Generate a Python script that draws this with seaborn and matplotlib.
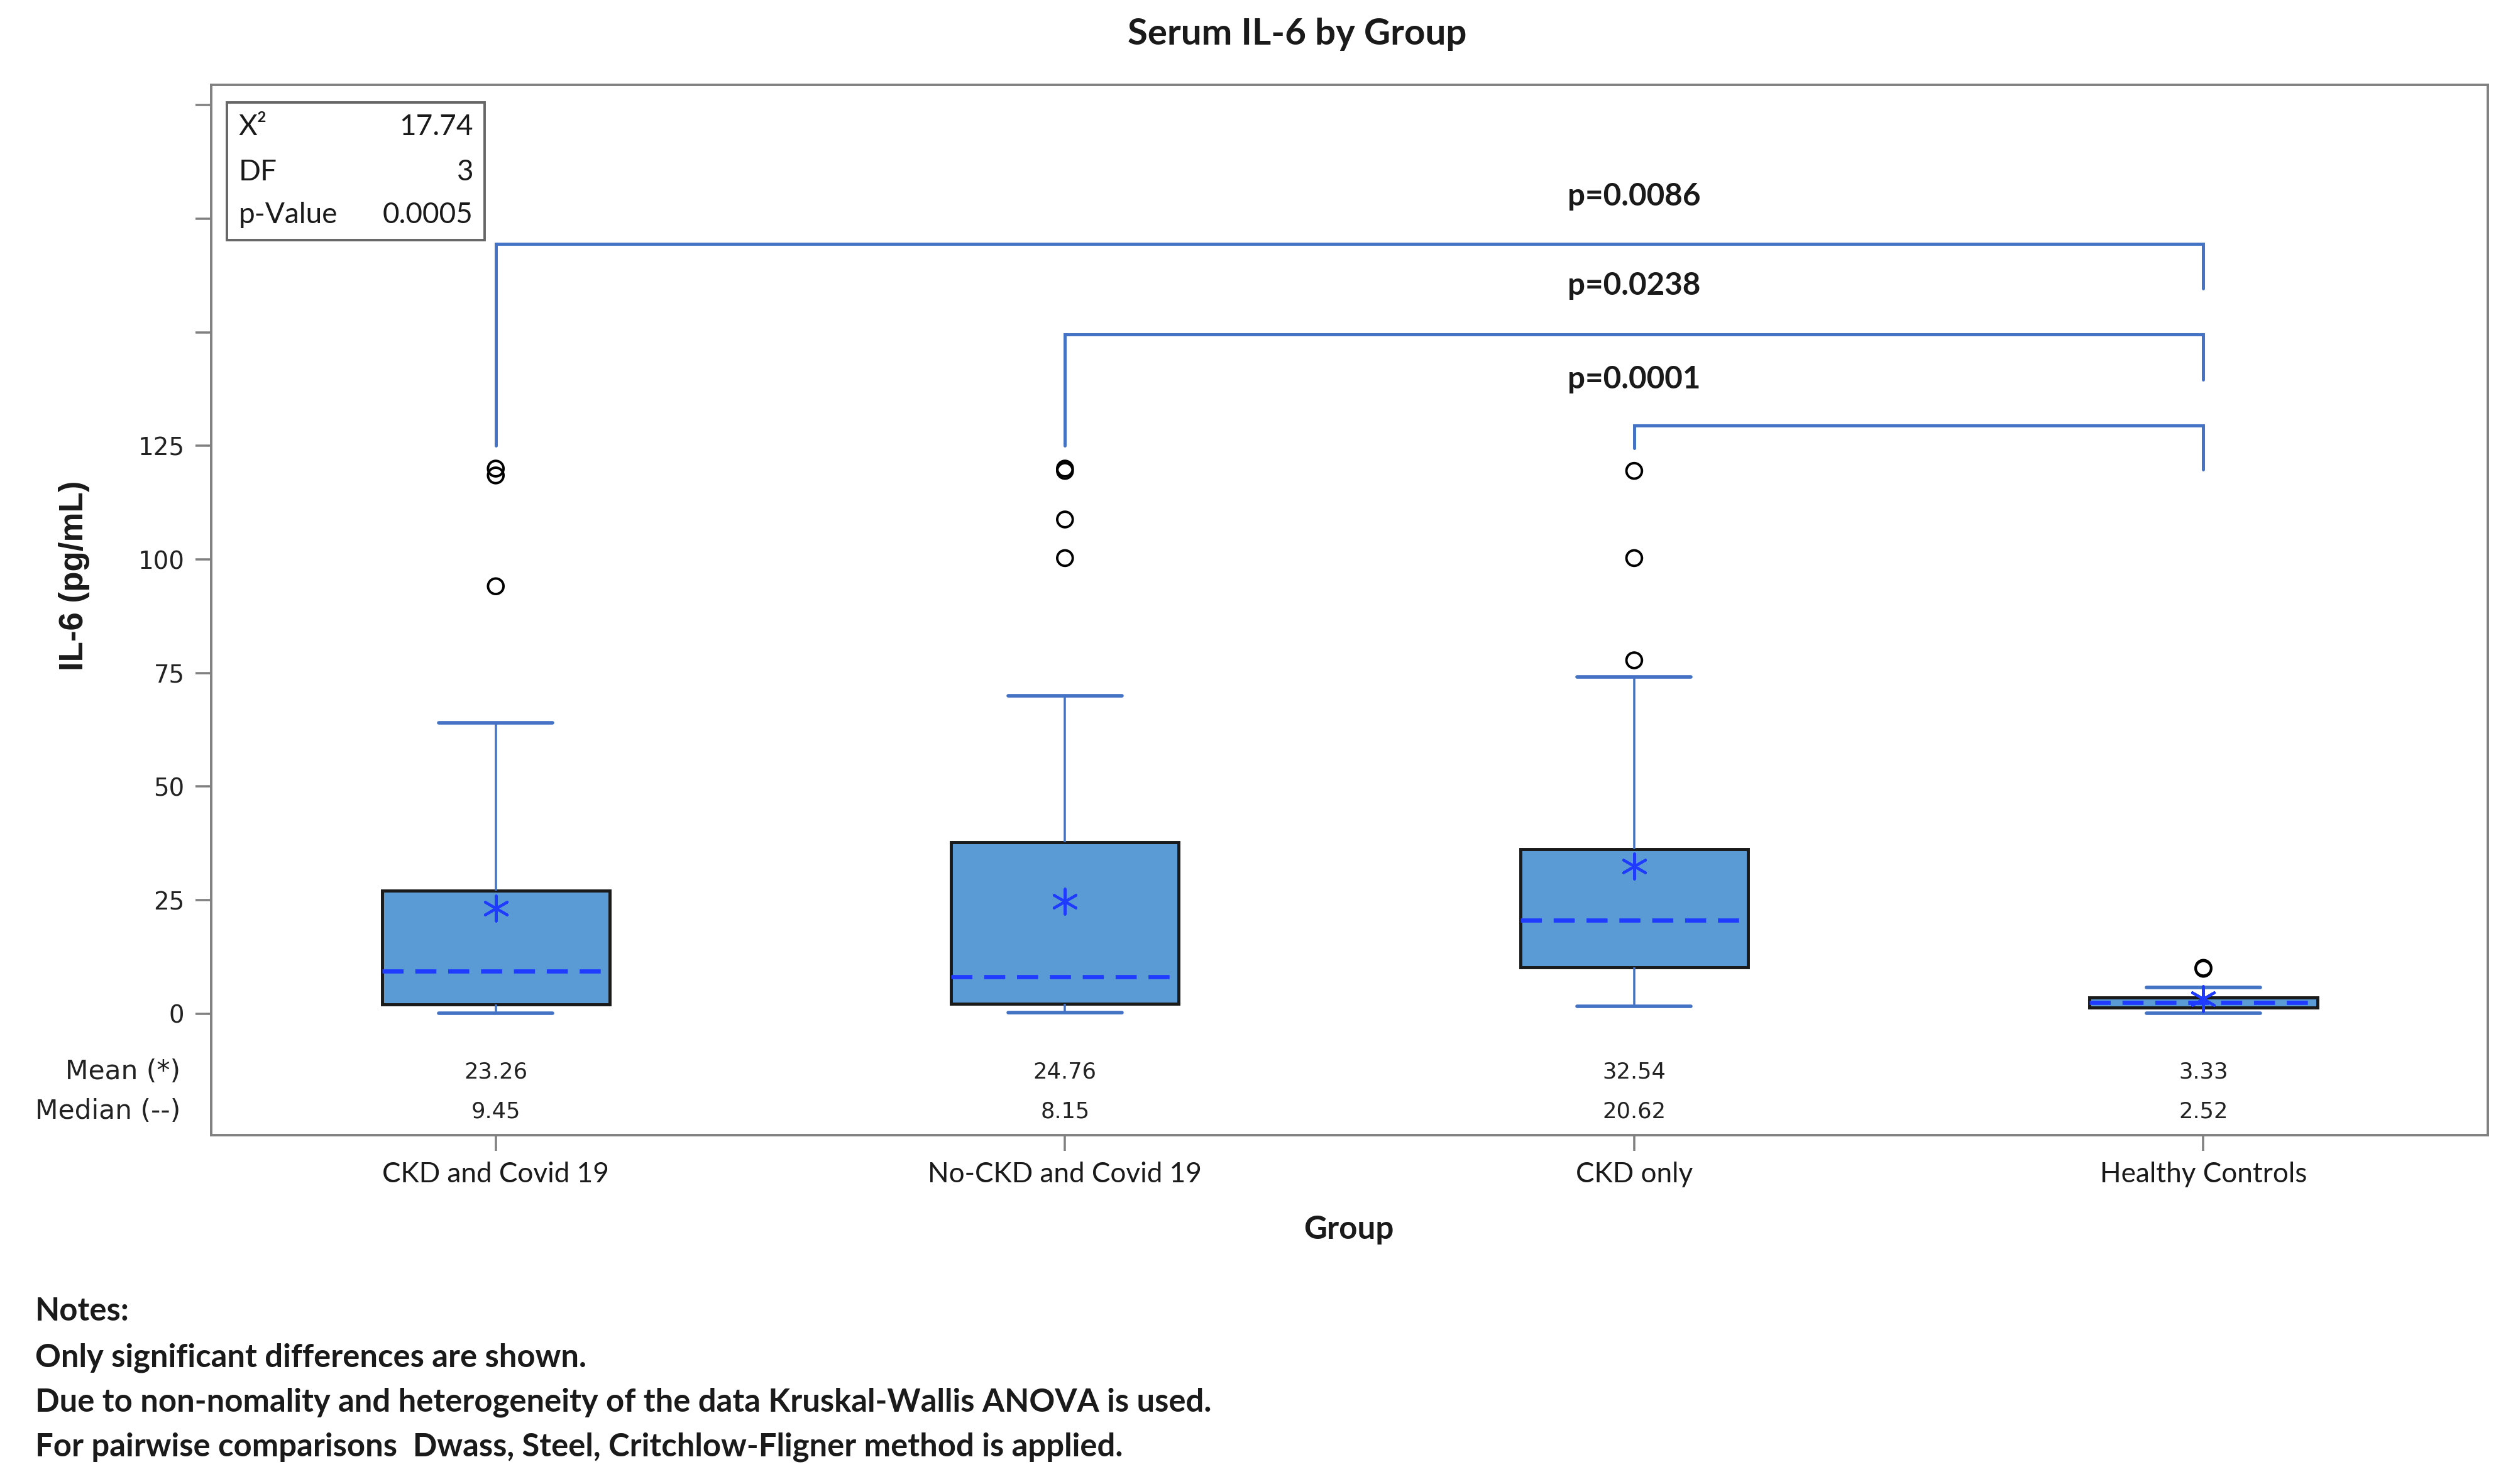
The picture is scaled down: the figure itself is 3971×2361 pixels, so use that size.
import matplotlib
matplotlib.use("Agg")
import matplotlib.pyplot as plt
import matplotlib.patches as mpatches
import seaborn as sns
import numpy as np
import pandas as pd

# --- DATA ---
groups = ["CKD and Covid 19", "No-CKD and Covid 19", "CKD only", "Healthy Controls"]
whisker_low = [0.1, 0.3, 1.7, 0.1]
q1 = [2.1, 2.2, 10.2, 1.3]
median = [9.45, 8.15, 20.62, 2.52]
q3 = [27.1, 37.7, 36.2, 3.6]
whisker_high = [64.0, 70.0, 74.1, 5.8]
means = [23.26, 24.76, 32.54, 3.33]
outliers = {
    "CKD and Covid 19": [94.1, 118.5, 120.0],
    "No-CKD and Covid 19": [100.3, 108.8, 119.5, 120.0],
    "CKD only": [77.8, 100.3, 119.5],
    "Healthy Controls": [9.9, 10.1],
}

# pairwise comparisons (group index pairs), bracket heights and p-values
pair_left = [0, 1, 2]
pair_right = [3, 3, 3]
bracket_top = [169.4, 149.6, 129.5]
left_leg_end = [125.1, 125.1, 124.5]
right_leg_end = [159.7, 139.6, 119.8]
p_labels = ["p=0.0086", "p=0.0238", "p=0.0001"]
p_label_y = [179.9, 160.2, 139.7]

stat_names = ["X²", "DF", "p-Value"]
stat_values = ["17.74", "3", "0.0005"]

y_ticks = [0, 25, 50, 75, 100, 125, 150, 175, 200]
y_tick_labels = ["0", "25", "50", "75", "100", "125", "", "", ""]

notes = [
    "Notes:",
    "Only significant differences are shown.",
    "Due to non-nomality and heterogeneity of the data Kruskal-Wallis ANOVA is used.",
    "For pairwise comparisons  Dwass, Steel, Critchlow-Fligner method is applied.",
]

# five-number summaries -> long table; with whis=(0, 100) seaborn reproduces them
box_df = pd.DataFrame({
    "group": np.repeat(groups, 5),
    "value": np.column_stack([whisker_low, q1, median, q3, whisker_high]).ravel(),
})
out_df = pd.DataFrame(
    [(g, v) for g, vals in outliers.items() for v in vals], columns=["group", "value"]
)

sns.set_style("white")
plt.rcParams["font.family"] = ["Lato", "DejaVu Sans"]

BOX_FILL = "#5B9BD5"
LINE_BLUE = "#4472C4"
MED_BLUE = "#1F3BFF"
GRAY = "#808080"

fig = plt.figure(figsize=(3971 / 254, 2361 / 254), dpi=254)
ax = fig.add_axes([0.0846, 0.235, 0.9122, 0.7079])

sns.boxplot(data=box_df, x="group", y="value", order=groups, ax=ax,
            whis=(0, 100), showfliers=False, width=0.4, saturation=1,
            color=BOX_FILL, linecolor="#1a1a1a",
            boxprops=dict(linewidth=1.4),
            whiskerprops=dict(color=LINE_BLUE, linewidth=1.0),
            capprops=dict(color=LINE_BLUE, linewidth=1.6),
            medianprops=dict(color=MED_BLUE, linewidth=1.9, linestyle=(0, (5, 2.8))))

n_before = len(ax.collections)
sns.stripplot(data=out_df, x="group", y="value", order=groups, ax=ax,
              jitter=False, marker="o", size=7, color="black",
              edgecolor="black", linewidth=1.1)
for coll in ax.collections[n_before:]:
    coll.set_facecolor("none")

# mean markers
sns.scatterplot(x=np.arange(len(groups)), y=means, ax=ax, marker=(6, 2, 0),
                s=130, color=MED_BLUE, linewidth=1.2, zorder=5, legend=False)

# significance brackets
for l, r, top, le, re, lab, ly in zip(pair_left, pair_right, bracket_top,
                                      left_leg_end, right_leg_end, p_labels, p_label_y):
    ax.plot([l, l, r, r], [le, top, top, re], color=LINE_BLUE, lw=1.4,
            solid_joinstyle="miter", zorder=3)
    ax.text(2.0, ly, lab, ha="center", va="center", fontsize=14, fontweight="bold",
            color="#1a1a1a")

# mean / median rows under the boxes
row_kw = dict(ha="center", va="center", fontsize=10, family="DejaVu Sans", color="#222222")
for i, (m, md) in enumerate(zip(means, median)):
    ax.text(i, -12.8, f"{m:.2f}", **row_kw)
    ax.text(i, -21.5, f"{md:.2f}", **row_kw)
ytr = ax.get_yaxis_transform()
ax.text(-0.0134, -12.8, "Mean (*)", transform=ytr, ha="right", va="center",
        fontsize=12, family="DejaVu Sans", color="#222222")
ax.text(-0.0134, -21.5, "Median (--)", transform=ytr, ha="right", va="center",
        fontsize=12, family="DejaVu Sans", color="#222222")

# statistics inset box
ax.add_patch(mpatches.Rectangle((0.007, 0.852), 0.113, 0.131, transform=ax.transAxes,
                                fill=False, edgecolor="#666666", lw=1.1, zorder=4))
for name, val, yy in zip(stat_names, stat_values, [0.960, 0.917, 0.876]):
    ax.text(0.012, yy, name, transform=ax.transAxes, ha="left", va="center",
            fontsize=13, color="#1a1a1a")
    ax.text(0.115, yy, val, transform=ax.transAxes, ha="right", va="center",
            fontsize=13, color="#1a1a1a")

# axes cosmetics
ax.set_xlim(-0.5, 3.5)
ax.set_ylim(-26.75, 204.5)
ax.set_yticks(y_ticks, y_tick_labels)
ax.set_xticks(range(len(groups)), groups)
for lab in ax.get_yticklabels():
    lab.set_family("DejaVu Sans")
ax.tick_params(axis="y", direction="out", length=7, width=1, color=GRAY,
               labelsize=11, labelcolor="#222222", pad=5, left=True)
ax.tick_params(axis="x", direction="out", length=7, width=1, color=GRAY,
               labelsize=12.5, labelcolor="#1a1a1a", pad=5, bottom=True)
for sp in ax.spines.values():
    sp.set_visible(True)
    sp.set_color(GRAY)
    sp.set_linewidth(1.1)

ax.set_xlabel("Group", fontsize=14.5, fontweight="bold", color="#1a1a1a")
ax.xaxis.set_label_coords(0.4997, -0.076)
ax.set_ylabel("IL-6 (pg/mL)", fontsize=15, fontweight="bold",
              family="Liberation Sans", color="#1a1a1a")
ax.yaxis.set_label_coords(-0.0534, 0.533)

fig.text(0.5196, 0.977, "Serum IL-6 by Group", ha="center", va="center",
         fontsize=16.5, fontweight="bold", color="#1a1a1a")

for txt, yy in zip(notes, [0.1164, 0.0851, 0.0550, 0.0248]):
    fig.text(0.0141, yy, txt, ha="left", va="center", fontsize=14.4,
             fontweight="bold", color="#1a1a1a")

fig.savefig("out.png", dpi=254)
